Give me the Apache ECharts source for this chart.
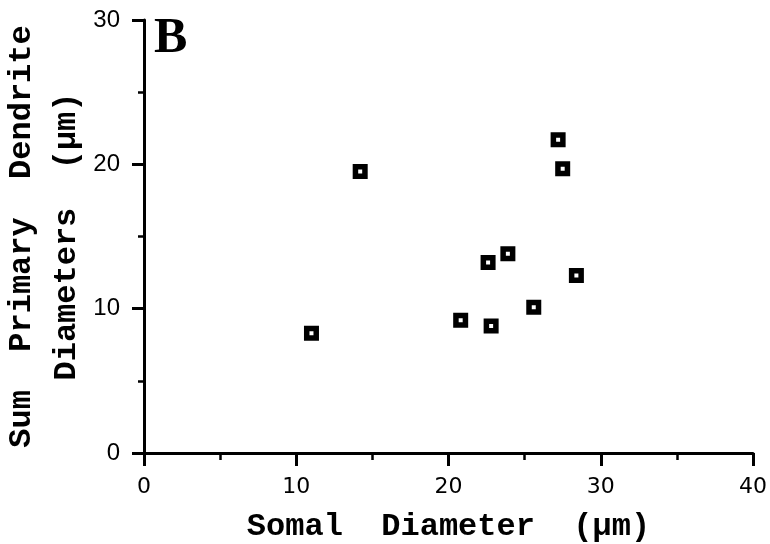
<!DOCTYPE html>
<html>
<head>
<meta charset="utf-8">
<script src="https://cdn.jsdelivr.net/npm/echarts@6/dist/echarts.min.js"></script>
<style>
  html, body { margin: 0; padding: 0; background: #fff; }
  #chart { width: 770px; height: 544px; }
</style>
</head>
<body>
<div id="chart"></div>
<script>
// somal diameter (µm) vs sum of primary dendrite diameters (µm)
const somal = [11.0, 14.2, 20.8, 22.6, 22.8, 23.9, 25.6, 27.2, 27.5, 28.4]
const dendriteSum = [8.3, 19.5, 9.2, 13.2, 8.8, 13.8, 10.1, 21.7, 19.7, 12.3]
const xTicks = [0, 10, 20, 30, 40]
const yTicks = [0, 10, 20, 30]

const points = somal.map((v, i) => [v, dendriteSum[i]])

const chart = echarts.init(document.getElementById('chart'))
const monoBold = {
  fontFamily: 'Liberation Mono',
  fontWeight: 'bold',
  fontSize: 32,
  color: '#000'
}
// black square with a small white hole in the middle
const squareMark = 'path://M0,0H15V15H0Z M5.5,5.5V9.5H9.5V5.5Z'
const option = {
  animation: false,
  backgroundColor: '#fff',
  grid: { left: 144, right: 17, top: 20, bottom: 91, outerBoundsMode: 'none', containLabel: false },
  xAxis: {
    type: 'value',
    min: xTicks[0],
    max: xTicks[xTicks.length - 1],
    interval: 10,
    name: 'Somal  Diameter  (µm)',
    nameLocation: 'middle',
    nameGap: 58,
    nameMoveOverlap: false,
    nameTextStyle: monoBold,
    axisLine: { lineStyle: { color: '#000', width: 3 } },
    axisTick: { inside: false, length: 13, lineStyle: { color: '#000', width: 3 } },
    minorTick: { show: true, splitNumber: 2, length: 7, lineStyle: { color: '#000', width: 2.5 } },
    axisLabel: { margin: 23, color: '#000', fontFamily: 'DejaVu Sans', fontSize: 22 },
    splitLine: { show: false }
  },
  yAxis: {
    type: 'value',
    min: yTicks[0],
    max: yTicks[yTicks.length - 1],
    interval: 10,
    name: 'Sum  Primary  Dendrite\nDiameters  (µm)',
    nameLocation: 'middle',
    nameRotate: 90,
    nameGap: 55,
    nameMoveOverlap: false,
    nameTextStyle: Object.assign({}, monoBold, { lineHeight: 45 }),
    axisLine: { lineStyle: { color: '#000', width: 3 } },
    axisTick: { inside: false, length: 12, lineStyle: { color: '#000', width: 3 } },
    minorTick: { show: true, splitNumber: 2, length: 6, lineStyle: { color: '#000', width: 2.5 } },
    axisLabel: { margin: 24, color: '#000', fontFamily: 'Liberation Sans', fontSize: 24 },
    splitLine: { show: false }
  },
  graphic: [{
    type: 'text',
    left: 154,
    top: 14,
    style: {
      text: 'B',
      fontFamily: 'Liberation Serif',
      fontWeight: 'bold',
      fontSize: 50,
      fill: '#000'
    }
  }],
  series: [{
    type: 'scatter',
    data: points,
    symbol: squareMark,
    symbolSize: 15,
    itemStyle: { color: '#000', opacity: 1 }
  }]
}
chart.setOption(option)
</script>
</body>
</html>
